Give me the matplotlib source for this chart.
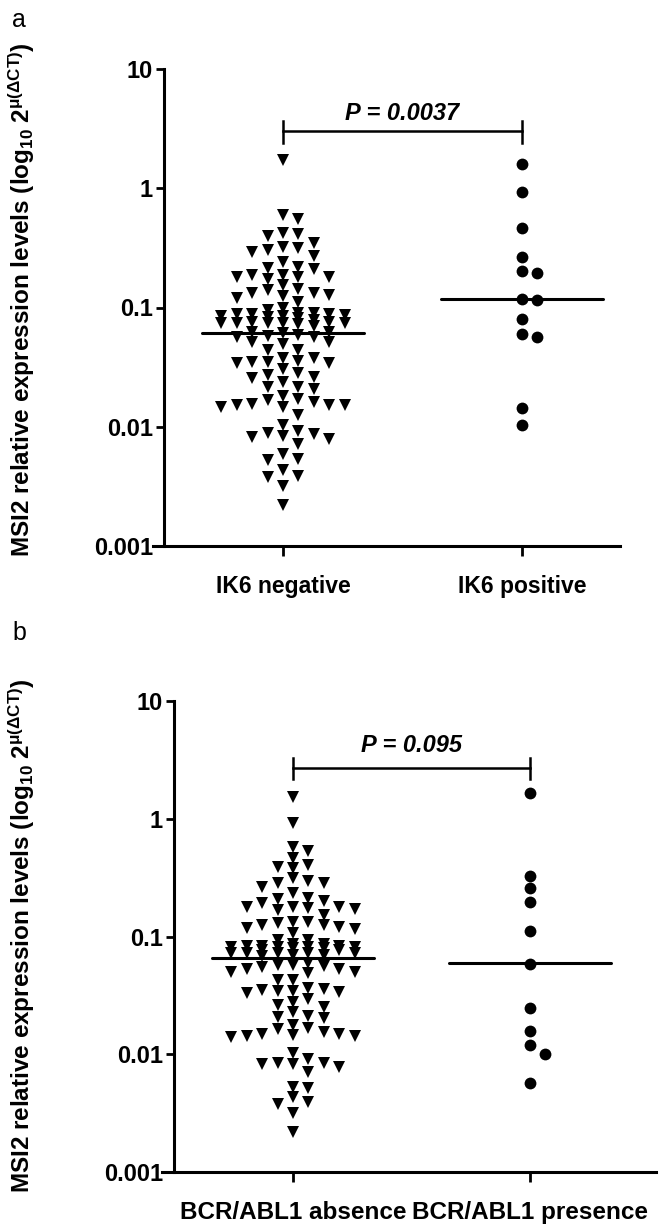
import numpy as np
import matplotlib
matplotlib.use('Agg')
import matplotlib.pyplot as plt

plt.rcParams['font.family'] = ['Liberation Sans', 'DejaVu Sans']
plt.rcParams['font.weight'] = 'bold'
plt.rcParams['mathtext.fontset'] = 'custom'
plt.rcParams['mathtext.rm'] = 'Liberation Sans:bold'
plt.rcParams['mathtext.it'] = 'Liberation Sans:italic:bold'
plt.rcParams['mathtext.bf'] = 'Liberation Sans:bold'

# ---- panel a: IK6 ----
ik6_labels = ['IK6 negative', 'IK6 positive']
ik6_neg = [1.73, 0.597, 0.552, 0.421, 0.413, 0.398, 0.348, 0.322, 0.315, 0.303,
           0.292, 0.270, 0.241, 0.219, 0.214, 0.210, 0.187, 0.180, 0.180, 0.173,
           0.180, 0.187, 0.154, 0.143, 0.140, 0.132, 0.127, 0.120, 0.125, 0.132,
           0.111, 0.099, 0.095,
           0.0899, 0.0883, 0.0883, 0.0816, 0.0865, 0.0832, 0.0785, 0.0849, 0.0849, 0.0883, 0.0899,
           0.0741, 0.0727, 0.0741, 0.0741, 0.0755, 0.0755, 0.0700, 0.0741, 0.0741,
           0.0588, 0.0566, 0.0624, 0.0611, 0.0624, 0.0566, 0.0577,
           0.0514, 0.0494, 0.0514, 0.0440, 0.0440,
           0.0377, 0.0349, 0.0343, 0.0343, 0.0349, 0.0356, 0.0377,
           0.0305, 0.0282, 0.0272, 0.0256, 0.0261,
           0.0237, 0.0215, 0.0207, 0.0215, 0.0181,
           0.0168, 0.0152, 0.0152, 0.0146, 0.0146, 0.0152, 0.0155, 0.0161, 0.0171,
           0.0126, 0.0104,
           0.0089, 0.0084, 0.0079, 0.0072, 0.0082, 0.0087, 0.0092,
           0.0054, 0.0053, 0.0059, 0.0043, 0.0038, 0.0039, 0.0032, 0.0022]
ik6_pos = [1.60, 0.931, 0.465, 0.265, 0.202, 0.195, 0.118, 0.116, 0.080,
           0.060, 0.0566, 0.0144, 0.0103]
ik6_medians = [0.061, 0.118]
p_a = 'P = 0.0037'
bracket_a = 3.0

# ---- panel b: BCR/ABL1 ----
bcr_labels = ['BCR/ABL1 absence', 'BCR/ABL1 presence']
bcr_abs = [1.53, 0.921, 0.577, 0.533, 0.465, 0.382, 0.405, 0.390, 0.314, 0.264,
           0.296, 0.285, 0.285, 0.213, 0.209, 0.234,
           0.200, 0.178, 0.178, 0.172, 0.168, 0.175, 0.178, 0.193,
           0.153,
           0.133, 0.125, 0.121, 0.116, 0.107, 0.118, 0.125, 0.130, 0.133,
           0.0935, 0.0935,
           0.0865, 0.0832, 0.0816, 0.0800, 0.0832, 0.0769, 0.0816, 0.0769, 0.0816,
           0.0800, 0.0816, 0.0832, 0.0865,
           0.0727, 0.0700, 0.0684, 0.0727, 0.0727, 0.0700, 0.0727, 0.0727,
           0.0563, 0.0530, 0.0500, 0.0490, 0.0574, 0.0574, 0.0597, 0.0500, 0.0530, 0.0552,
           0.0428, 0.0428,
           0.0359, 0.0345, 0.0339, 0.0295, 0.0279, 0.0332, 0.0345, 0.0352, 0.0366,
           0.0252, 0.0262, 0.0229,
           0.0212, 0.0204, 0.0208,
           0.0178,
           0.0165, 0.0149, 0.0146, 0.0143, 0.0141, 0.0143, 0.0149, 0.0155, 0.0168,
           0.0103,
           0.0085, 0.0083, 0.0078, 0.0070, 0.0083, 0.0085, 0.0091,
           0.0053, 0.0052,
           0.0038, 0.0043, 0.0039,
           0.0032, 0.0022]
bcr_pres = [1.66, 0.327, 0.259, 0.197, 0.112, 0.0585, 0.0248, 0.0158, 0.0120,
            0.0101, 0.0057]
bcr_medians = [0.066, 0.059]
p_b = 'P = 0.095'
bracket_b = 2.7

yticks = [0.001, 0.01, 0.1, 1, 10]
ytick_labels = ['0.001', '0.01', '0.1', '1', '10']
ylabel = 'MSI2 relative expression levels (log$_{10}$ 2$^{\\mathregular{\u03bc(\u0394CT)}}$)'


def swarm_offsets(ax, values, col_px=15.4, wx=14.0, hy=10.0):
    # greedy scatter on a column grid (max 9 columns, then half columns)
    values = np.asarray(values, dtype=float)
    trans = ax.transData
    ypx = trans.transform(np.column_stack([np.ones(len(values)), values]))[:, 1]
    px_per_x = trans.transform((2, 1))[0] - trans.transform((1, 1))[0]
    cand = [0, 1, -1, 2, -2, 3, -3, 4, -4, 0.5, -0.5, 1.5, -1.5, 2.5, -2.5, 3.5, -3.5]
    cand = [c * col_px for c in cand]
    placed = []
    offs = np.zeros(len(values))
    for i in np.argsort(-values, kind='stable'):
        best, best_gap = None, -1.0
        for c in cand:
            near = [abs(ypx[i] - py) for px, py in placed if abs(c - px) < wx]
            gap = min(near) if near else 1e9
            if gap >= hy:
                best = c
                break
            if gap > best_gap:
                best, best_gap = c, gap
        placed.append((best, ypx[i]))
        offs[i] = best / px_per_x
    return offs


def draw_panel(fig, rect, xlim, spine_frac, groups, medians, labels, p_text,
               bracket_y, p_dy, xlab_size):
    ax = fig.add_axes(rect)
    ax.set_yscale('log')
    ax.set_ylim(0.001, 10)
    ax.set_xlim(*xlim)
    markers = ['v', 'o']
    sizes = [9, 8.5]
    for i, vals in enumerate(groups):
        x = i + 1 + swarm_offsets(ax, vals)
        ax.plot(x, vals, linestyle='none', marker=markers[i], markersize=sizes[i],
                color='black', markeredgewidth=0, clip_on=False)
        ax.plot([i + 1 - 0.34, i + 1 + 0.34], [medians[i], medians[i]], color='black',
                lw=2.2, solid_capstyle='round')
    # significance bracket
    ax.plot([1, 2], [bracket_y, bracket_y], color='black', lw=1.8, clip_on=False)
    for xx in (1, 2):
        ax.plot([xx, xx], [bracket_y * 10 ** 0.085, bracket_y * 10 ** -0.095],
                color='black', lw=1.8, clip_on=False)
    ax.text(1.5, bracket_y * 10 ** p_dy, p_text, ha='center', va='center',
            fontsize=17, fontweight='bold', style='italic')

    ax.spines['top'].set_visible(False)
    ax.spines['right'].set_visible(False)
    ax.spines['left'].set_position(('axes', spine_frac))
    for s in ('left', 'bottom'):
        ax.spines[s].set_linewidth(2.2)
    ax.set_yticks(yticks)
    ax.set_yticklabels(ytick_labels)
    ax.yaxis.set_minor_locator(plt.NullLocator())
    ax.set_xticks([1, 2])
    ax.set_xticklabels(labels)
    ax.tick_params(axis='y', length=6, width=2, labelsize=17, pad=2)
    ax.tick_params(axis='x', length=7, width=2, labelsize=xlab_size, pad=14)
    return ax


fig = plt.figure(figsize=(6.7, 12.28), dpi=100)
W, H = 670.0, 1228.0

# panel a
draw_panel(fig, [153 / W, 1 - 546 / H, 467 / W, 477 / H], (0.456, 2.410), 0.0236,
           [ik6_neg, ik6_pos], ik6_medians, ik6_labels, p_a, bracket_a, 0.15, 16.5)
fig.text(22 / W, 1 - 300 / H, ylabel, rotation=90, ha='center', va='center', fontsize=17.5)
fig.text(12 / W, 1 - 20 / H, 'a', ha='left', va='center', fontsize=18, fontweight='normal')

# panel b
draw_panel(fig, [162 / W, 1 - 1172 / H, 494 / W, 471 / H], (0.4473, 2.532), 0.0243,
           [bcr_abs, bcr_pres], bcr_medians, bcr_labels, p_b, bracket_b, 0.19, 17.5)
fig.text(22 / W, 1 - 936 / H, ylabel, rotation=90, ha='center', va='center', fontsize=17.5)
fig.text(12 / W, 1 - 633 / H, 'b', ha='left', va='center', fontsize=18, fontweight='normal')

fig.savefig('out.png', dpi=100)
